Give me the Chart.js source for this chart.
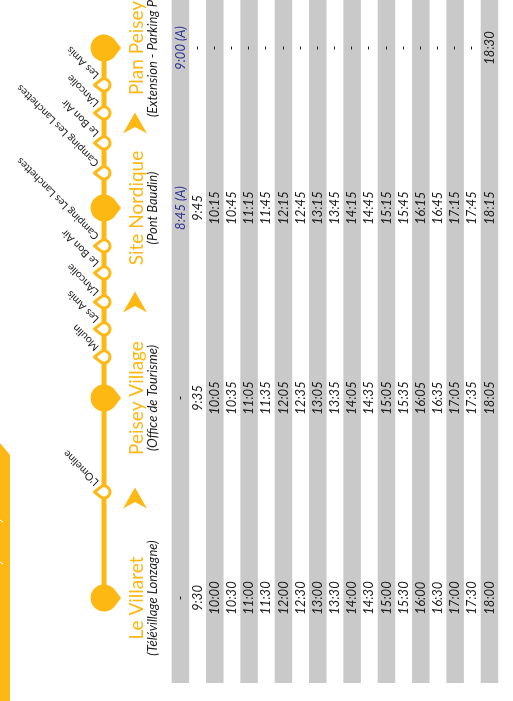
<!DOCTYPE html>
<html><head><meta charset="utf-8">
<script src="https://cdn.jsdelivr.net/npm/chart.js@4.4.1/dist/chart.umd.min.js"></script>
<style>html,body{margin:0;padding:0;background:#fff;overflow:hidden}canvas{display:block}</style>
</head><body>
<canvas id="c" width="513" height="701"></canvas>
<script>
// ================= DATA =================
const stopNames = ["Le Villaret","L'Omeline","Peisey Village","Moulin","Les Amis","L'Ancolie","Le Bon Air","Camping Les Lanchettes","Site Nordique","Camping Les Lanchettes","Le Bon Air","L'Ancolie","Les Amis","Plan Peisey"];
// distance of each stop along the drawn route (arbitrary route units)
const stopPositions = [0,106,200,241,269,296,325,352,390,425,455,485,513,550];
const mainStops = ["Le Villaret","Peisey Village","Site Nordique","Plan Peisey"];
const mainStopSubtitles = ["(Télévillage Lonzagne)","(Office de Tourisme)","(Pont Baudin)","(Extension - Parking Plan Peisey)"];
// direction arrows along the route (route units)
const directionArrows = [100,296,475];
const timesLeVillaret = ["-","9:30","10:00","10:30","11:00","11:30","12:00","12:30","13:00","13:30","14:00","14:30","15:00","15:30","16:00","16:30","17:00","17:30","18:00"];
const timesPeiseyVillage = ["-","9:35","10:05","10:35","11:05","11:35","12:05","12:35","13:05","13:35","14:05","14:35","15:05","15:35","16:05","16:35","17:05","17:35","18:05"];
const timesSiteNordique = ["8:45 (A)","9:45","10:15","10:45","11:15","11:45","12:15","12:45","13:15","13:45","14:15","14:45","15:15","15:45","16:15","16:45","17:15","17:45","18:15"];
const timesPlanPeisey = ["9:00 (A)","-","-","-","-","-","-","-","-","-","-","-","-","-","-","-","-","-","18:30"];
const timetable = [timesLeVillaret,timesPeiseyVillage,timesSiteNordique,timesPlanPeisey];

// ================= LAYOUT / STYLE =================
const ORANGE = '#FDB813';
const GRAY = '#C9C9C9';
const NAVY = '#2E3192';
const TEXT = '#1c1c1c';
const L = {
  xMin: -10.51, xMax: 19.37,    // row units
  yMin: -103, yMax: 598,        // route units
  routeLane: -4.45, arrowLane: -2.65, titleLane: -2.2, subLane: -1.38,
  tableBottom: -85, tableTop: 640,
  lastSubStartOffset: 69
};

function makeDrop(r, tip, dir, fill, stroke, lw){
  const half = Math.ceil(Math.max(r, tip) + lw + 2);
  const cv = document.createElement('canvas'); cv.width = half*2; cv.height = half*2;
  const g = cv.getContext('2d');
  g.translate(half, half);
  if (dir < 0) g.scale(-1, 1);
  const a = Math.acos(r/tip);
  g.beginPath(); g.moveTo(tip, 0); g.arc(0, 0, r, a, 2*Math.PI - a); g.closePath();
  g.fillStyle = fill; g.fill();
  if (stroke){ g.lineWidth = lw; g.strokeStyle = stroke; g.lineJoin='round'; g.stroke(); }
  return cv;
}
function makeArrow(){
  const cv = document.createElement('canvas'); cv.width = 26; cv.height = 24;
  const g = cv.getContext('2d');
  g.beginPath(); g.moveTo(13,1.5); g.lineTo(25,22.5); g.lineTo(13,16); g.lineTo(1,22.5); g.closePath();
  g.fillStyle = ORANGE; g.fill();
  return cv;
}
const bigDrop = makeDrop(13.5, 17, 1, ORANGE, null, 0);
const smallDrop = makeDrop(6, 9.5, -1, '#ffffff', ORANGE, 3);
const arrowImg = makeArrow();

const rowIdx = timesLeVillaret.map((_, i) => i);
const isMain = stopNames.map(n => mainStops.includes(n));

const decoPlugin = {
  id: 'deco',
  beforeDatasetsDraw(chart){
    const ctx = chart.ctx;
    ctx.save();
    ctx.fillStyle = ORANGE;
    ctx.beginPath(); ctx.moveTo(0,443); ctx.lineTo(10,455); ctx.lineTo(10,701); ctx.lineTo(0,701); ctx.closePath(); ctx.fill();
    ctx.strokeStyle = '#fff'; ctx.lineWidth = 1;
    [521,563].forEach(y => { ctx.beginPath(); ctx.moveTo(0,y-1); ctx.lineTo(3,y+1); ctx.stroke(); });
    ctx.restore();
  }
};
function rotText(ctx, text, px, py, angle, align, baseline, font, color){
  ctx.save(); ctx.translate(px, py); ctx.rotate(angle);
  ctx.font = font; ctx.fillStyle = color; ctx.textAlign = align; ctx.textBaseline = baseline;
  ctx.fillText(text, 0, 0); ctx.restore();
}
const textPlugin = {
  id: 'texts',
  afterDatasetsDraw(chart){
    const ctx = chart.ctx, xs = chart.scales.x, ys = chart.scales.y;
    const up = -Math.PI/2;
    // timetable
    mainStops.forEach((name, c) => {
      const py = ys.getPixelForValue(stopPositions[stopNames.indexOf(name)]);
      timetable[c].forEach((t, r) => {
        const px = xs.getPixelForValue(r);
        rotText(ctx, t, px, py, up, 'center', 'middle', 'italic 13px Lato', t.includes('(A)') ? NAVY : TEXT);
      });
      // headers
      rotText(ctx, name, xs.getPixelForValue(L.titleLane), py, up, 'center', 'alphabetic', '19px Lato', ORANGE);
      const sub = mainStopSubtitles[c];
      if (c === mainStops.length - 1)
        rotText(ctx, sub, xs.getPixelForValue(L.subLane), py + L.lastSubStartOffset, up, 'left', 'alphabetic', 'italic 13px Lato', TEXT);
      else
        rotText(ctx, sub, xs.getPixelForValue(L.subLane), py, up, 'center', 'alphabetic', 'italic 13px Lato', TEXT);
    });
    // intermediate stop labels
    stopNames.forEach((n, i) => {
      if (isMain[i]) return;
      const px = xs.getPixelForValue(L.routeLane), py = ys.getPixelForValue(stopPositions[i]);
      rotText(ctx, n, px - 7, py - 8, -3*Math.PI/4, 'left', 'middle', '10.5px Lato', TEXT);
    });
  }
};

new Chart(document.getElementById('c'), {
  type: 'bar',
  data: {
    datasets: [
      {
        type: 'bar', order: 10,
        data: rowIdx.map(i => ({x: i, y: [L.tableBottom, L.tableTop]})),
        backgroundColor: rowIdx.map(i => i % 2 === 0 ? GRAY : 'rgba(0,0,0,0)'),
        borderWidth: 0, barPercentage: 1.02, categoryPercentage: 1, clip: false
      },
      {
        type: 'line', order: 2,
        data: stopPositions.map(p => ({x: L.routeLane, y: p})),
        borderColor: ORANGE, borderWidth: 5, fill: false, tension: 0,
        pointStyle: isMain.map(m => m ? bigDrop : smallDrop),
        pointRadius: 8, clip: false
      },
      {
        type: 'scatter', order: 1,
        data: directionArrows.map(p => ({x: L.arrowLane, y: p})),
        pointStyle: arrowImg, pointRadius: 10, showLine: false, clip: false
      }
    ]
  },
  options: {
    responsive: false, animation: false, events: [],
    layout: {padding: 0, autoPadding: false},
    plugins: {legend: {display: false}, tooltip: {enabled: false}},
    scales: {
      x: {type: 'linear', min: L.xMin, max: L.xMax, display: false, offset: false, grid: {offset: false}},
      y: {type: 'linear', min: L.yMin, max: L.yMax, display: false}
    }
  },
  plugins: [decoPlugin, textPlugin]
});
</script>
</body></html>
